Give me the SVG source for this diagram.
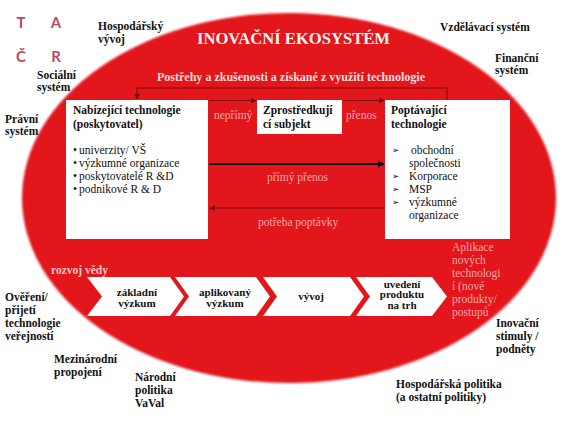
<svg xmlns="http://www.w3.org/2000/svg" width="566" height="424" viewBox="0 0 566 424">
<defs>
<style>
.t{font-family:"Liberation Serif","DejaVu Serif",serif;font-size:11.5px;}
.b{font-weight:bold;}
.k{fill:#111;}
.p{fill:#f5a9a9;}
.box{fill:#fff;}
.chev{fill:#fff;}
.ct{font-family:"Liberation Serif","DejaVu Serif",serif;font-size:11px;font-weight:bold;fill:#111;text-anchor:middle;}
.logo{font-family:Lato,"DejaVu Sans",sans-serif;font-size:15px;font-weight:bold;fill:#b94c5c;text-anchor:middle;}
.dr{stroke:#7a0a0a;stroke-width:1;fill:none;}
.ar{font-family:"DejaVu Sans",sans-serif;font-size:8.5px;}
</style>
<filter id="soft" x="-5%" y="-5%" width="110%" height="110%"><feGaussianBlur stdDeviation="1.2"/></filter>
<marker id="ahd" viewBox="0 0 8 8" refX="7" refY="4" markerWidth="6" markerHeight="6" orient="auto" markerUnits="userSpaceOnUse"><path d="M0,0 L8,4 L0,8 Z" fill="#7a0a0a"/></marker>
<marker id="ahk" viewBox="0 0 8 8" refX="7" refY="4" markerWidth="7" markerHeight="7" orient="auto" markerUnits="userSpaceOnUse"><path d="M0,0 L8,4 L0,8 Z" fill="#111"/></marker>
</defs>
<rect width="566" height="424" fill="#fff"/>
<g id="logo">
<text class="logo" x="21" y="28">T</text>
<text class="logo" x="56" y="28">A</text>
<text class="logo" x="21" y="61.5">Č</text>
<text class="logo" x="56" y="61.5">R</text>
</g>
<g id="ecosystem">
<ellipse cx="289" cy="198" rx="267" ry="185" fill="#e3121b" filter="url(#soft)"/>
<text class="t b" x="197" y="43.5" style="font-size:16.5px" fill="#fff4f4" textLength="193" lengthAdjust="spacingAndGlyphs">INOVAČNÍ EKOSYSTÉM</text>
<text class="t b" x="157" y="81" fill="#fbdede" textLength="268" lengthAdjust="spacingAndGlyphs">Postřehy a zkušenosti  a získané z využití technologie</text>
</g>
<g id="outside-labels" class="t b k">
<text x="98" y="30">Hospodářský</text>
<text x="98" y="43">vývoj</text>
<text x="37" y="79">Sociální</text>
<text x="37" y="91">systém</text>
<text x="5" y="123">Právní</text>
<text x="5" y="135">systém</text>
<text x="440" y="31">Vzdělávací systém</text>
<text x="495" y="62">Finanční</text>
<text x="495" y="74">systém</text>
<text x="5" y="301">Ověření/</text>
<text x="5" y="314">přijetí</text>
<text x="5" y="327">technologie</text>
<text x="5" y="340">veřejností</text>
<text x="54" y="363">Mezinárodní</text>
<text x="54" y="376">propojení</text>
<text x="135" y="381">Národní</text>
<text x="135" y="394">politika</text>
<text x="135" y="407">VaVal</text>
<text x="496" y="327">Inovační</text>
<text x="496" y="340">stimuly /</text>
<text x="496" y="353">podněty</text>
<text x="396" y="388">Hospodářská politika</text>
<text x="396" y="401">(a ostatní politiky)</text>
</g>
<g id="node-provider">
<rect class="box" x="66" y="100" width="142" height="139"/>
<text class="t b k" x="73" y="114">Nabízející technologie</text>
<text class="t b k" x="73" y="128">(poskytovatel)</text>
<g class="t k">
<text x="73" y="154">•</text><text x="79" y="154">univerzity/ VŠ</text>
<text x="73" y="167">•</text><text x="79" y="167">výzkumné organizace</text>
<text x="73" y="180">•</text><text x="79" y="180">poskytovatelé  R &amp;D</text>
<text x="73" y="193">•</text><text x="79" y="193">podnikové R &amp; D</text>
</g>
</g>
<g id="node-intermediary">
<rect class="box" x="257" y="100" width="85" height="34"/>
<text class="t b k" x="263" y="114">Zprostředkují</text>
<text class="t b k" x="263" y="128">cí subjekt</text>
</g>
<g id="node-demand">
<rect class="box" x="385" y="100" width="125" height="139"/>
<text class="t b k" x="391" y="114">Poptávající</text>
<text class="t b k" x="391" y="128">technologie</text>
<g class="t k">
<text class="ar" x="392" y="153">➢</text><text x="411" y="154">obchodní</text>
<text x="409" y="167">společnosti</text>
<text class="ar" x="392" y="179">➢</text><text x="409" y="180">Korporace</text>
<text class="ar" x="392" y="192">➢</text><text x="409" y="193">MSP</text>
<text class="ar" x="392" y="205">➢</text><text x="409" y="206">výzkumné</text>
<text x="409" y="219">organizace</text>
</g>
</g>
<g id="connectors">
<polyline class="dr" points="447,100 447,88 137,88 137,99" marker-end="url(#ahd)"/>
<line class="dr" x1="209" y1="100.5" x2="256" y2="100.5" marker-end="url(#ahd)"/>
<line class="dr" x1="343" y1="100.5" x2="384" y2="100.5" marker-end="url(#ahd)"/>
<line x1="209" y1="164" x2="384" y2="164" stroke="#111" stroke-width="1.8" marker-end="url(#ahk)"/>
<line class="dr" x1="385" y1="208" x2="210" y2="208" marker-end="url(#ahd)"/>
</g>
<g id="connector-labels" class="t p">
<text x="214" y="119">nepřímý</text>
<text x="346" y="119">přenos</text>
<text x="267" y="181">přímý přenos</text>
<text x="258" y="226">potřeba poptávky</text>
</g>
<g id="science-chain">
<text class="t b" x="51" y="274" fill="#f7c4c4">rozvoj vědy</text>
<g id="step-basic">
<polygon class="chev" points="87,277 170,277 184,296.5 170,316 87,316 102,296.5"/>
<text class="ct" x="137" y="296">základní</text>
<text class="ct" x="137" y="307">výzkum</text>
</g>
<g id="step-applied">
<polygon class="chev" points="175,277 256,277 270,296.5 256,316 175,316 189,296.5"/>
<text class="ct" x="225" y="296">aplikovaný</text>
<text class="ct" x="225" y="307">výzkum</text>
</g>
<g id="step-dev">
<polygon class="chev" points="263,277 350,277 364,296.5 350,316 263,316 277,296.5"/>
<text class="ct" x="311" y="300">vývoj</text>
</g>
<g id="step-market">
<polygon class="chev" points="356,277 432,277 447,296.5 432,316 356,316 370,296.5"/>
<text class="ct" x="402" y="287.5">uvedení</text>
<text class="ct" x="402" y="298">produktu</text>
<text class="ct" x="402" y="308.5">na trh</text>
</g>
</g>
<g id="application" class="t p">
<text x="452" y="251">Aplikace</text>
<text x="452" y="264">nových</text>
<text x="452" y="277">technologi</text>
<text x="452" y="290">í (nové</text>
<text x="452" y="303">produkty/</text>
<text x="452" y="316">postupů</text>
</g>
</svg>
